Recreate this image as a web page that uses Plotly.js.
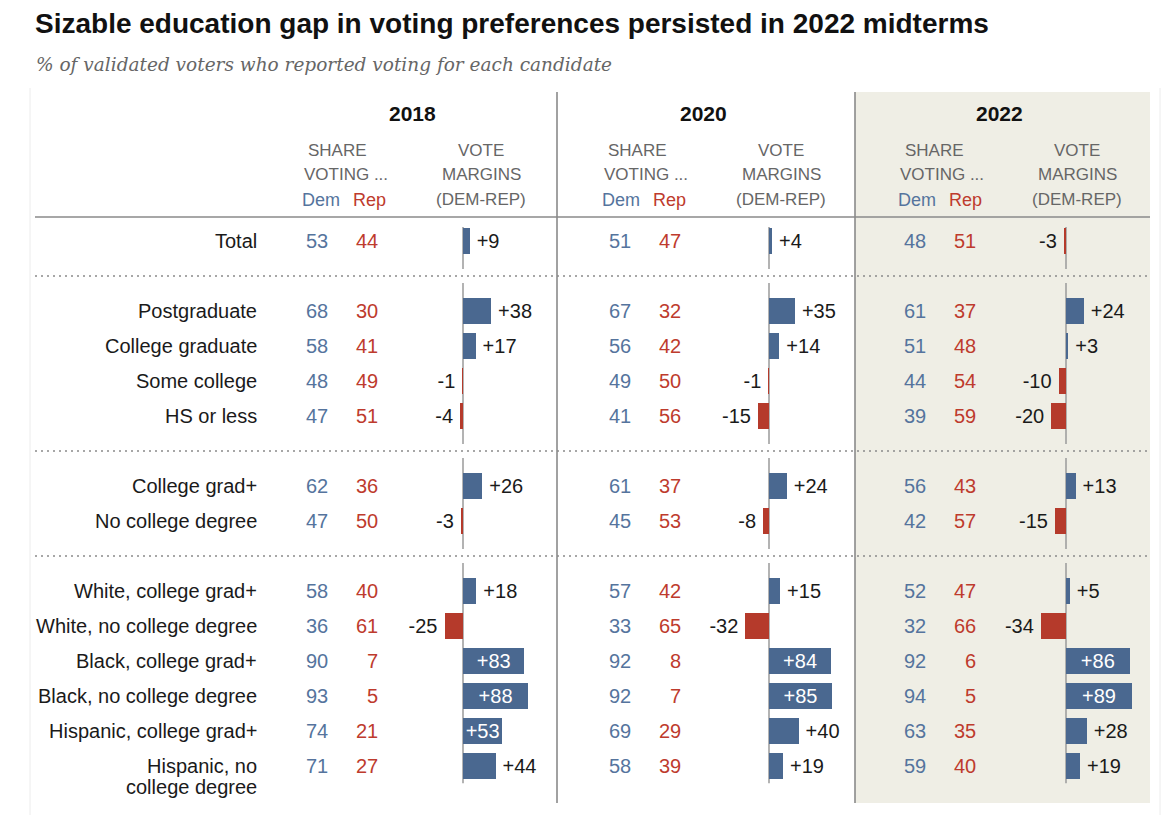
<!DOCTYPE html>
<html>
<head>
<meta charset="utf-8">
<script src="https://cdn.plot.ly/plotly-3.0.1.min.js"></script>
<style>html,body{margin:0;padding:0;background:#fff;}#chart{width:1170px;height:825px;}</style>
</head>
<body>
<div id="chart"></div>
<script>
// ---------- data ----------
const categories = ["Total","Postgraduate","College graduate","Some college","HS or less",
  "College grad+","No college degree",
  "White, college grad+","White, no college degree","Black, college grad+","Black, no college degree",
  "Hispanic, college grad+","Hispanic, no<br>college degree"];
const groupSizes = [1, 4, 2, 6];
const years = ["2018", "2020", "2022"];
const dem2018 = [53,68,58,48,47,62,47,58,36,90,93,74,71];
const rep2018 = [44,30,41,49,51,36,50,40,61,7,5,21,27];
const margin2018 = [9,38,17,-1,-4,26,-3,18,-25,83,88,53,44];
const dem2020 = [51,67,56,49,41,61,45,57,33,92,92,69,58];
const rep2020 = [47,32,42,50,56,37,53,42,65,8,7,29,39];
const margin2020 = [4,35,14,-1,-15,24,-8,15,-32,84,85,40,19];
const dem2022 = [48,61,51,44,39,56,42,52,32,92,94,63,59];
const rep2022 = [51,37,48,54,59,43,57,47,66,6,5,35,40];
const margin2022 = [-3,24,3,-10,-20,13,-15,5,-34,86,89,28,19];
const headerShare = ["SHARE", "VOTING ..."];
const headerMargin = ["VOTE", "MARGINS", "(DEM-REP)"];
const titleText = "Sizable education gap in voting preferences persisted in 2022 midterms";
const subtitleText = "% of validated voters who reported voting for each candidate";

// ---------- styling / geometry ----------
const W = 1170, H = 825;
const FONT = "Liberation Sans, Arial, sans-serif";
const BLUE = "#4A6890", RED = "#B53A2B";
const BLUE_TXT = "#55749D", RED_TXT = "#BE3B2D";
const INK = "#1a1a1a", GRAY = "#666666", LINE = "#8a8a8a";
const px = x => x / W;
const py = y => 1 - y / H;

// row positions (one empty row between groups)
const rowPos = []; const sepPos = []; const groupSpans = [];
(function(){ let idx = 0; groupSizes.forEach((n, gi) => {
  const first = idx;
  for (let k = 0; k < n; k++) rowPos.push(idx++);
  groupSpans.push([first, idx - 1]);
  if (gi < groupSizes.length - 1) { sepPos.push(idx); idx++; }
}); })();
const ROW0 = 241, ROWH = 35;
const lastRow = rowPos[rowPos.length - 1];
const yTop = ROW0 - ROWH / 2, yBot = ROW0 + lastRow * ROWH + ROWH / 2;

const panels = [
  {dem: dem2018, rep: rep2018, margin: margin2018, zero: 463, numOff: 0, hdrOff: 0, yearX: 412},
  {dem: dem2020, rep: rep2020, margin: margin2020, zero: 769, numOff: 303, hdrOff: 300, yearX: 703},
  {dem: dem2022, rep: rep2022, margin: margin2022, zero: 1066, numOff: 598, hdrOff: 596, yearX: 999}
];
const PXU = 0.74, XMIN = -40, XMAX = 100;
const INSIDE_MIN = 50;
const GAP = "\u2009";

const fmt = v => {
  const s = (v > 0 ? "+" : "") + v;
  if (v >= INSIDE_MIN) return s;
  return v >= 0 ? GAP + s : s + GAP;
};
const traces = [];
const layout = {
  width: W, height: H, margin: {l:0, r:0, t:0, b:0},
  paper_bgcolor: "#ffffff", plot_bgcolor: "rgba(0,0,0,0)",
  showlegend: false, bargap: 0,
  font: {family: FONT, color: INK, size: 20},
  title: {text: titleText, x: px(35), xanchor: "left", xref: "paper",
          y: py(23), yref: "paper", yanchor: "middle",
          font: {family: FONT, size: 28, weight: "bold", color: "#111"}},
  yaxis: {range: [lastRow + 0.5, -0.5], domain: [py(yBot), py(yTop)],
          showticklabels: false, showgrid: false, zeroline: false, showline: false, ticks: "", fixedrange: true},
  shapes: [], annotations: []
};

// background panel for 2022 and structural lines
layout.shapes.push({type:"rect", xref:"paper", yref:"paper", x0:px(855), x1:px(1150), y0:py(803), y1:py(92),
  fillcolor:"#EFEEE5", line:{width:0}, layer:"below"});
layout.shapes.push({type:"line", xref:"paper", yref:"paper", x0:px(30), x1:px(30), y0:py(815), y1:py(88),
  line:{color:"#ececec", width:1}, layer:"below"});
layout.shapes.push({type:"line", xref:"paper", yref:"paper", x0:px(1160), x1:px(1160), y0:py(815), y1:py(88),
  line:{color:"#ececec", width:1}, layer:"below"});
[557, 855].forEach(x => layout.shapes.push({type:"line", xref:"paper", yref:"paper",
  x0:px(x), x1:px(x), y0:py(803), y1:py(92), line:{color:LINE, width:1.6}, layer:"below"}));
layout.shapes.push({type:"line", xref:"paper", yref:"paper", x0:px(35), x1:px(1150), y0:py(217), y1:py(217),
  line:{color:LINE, width:1.6}, layer:"below"});
sepPos.forEach(s => layout.shapes.push({type:"line", xref:"paper", yref:"y", x0:px(35), x1:px(1150), y0:s, y1:s,
  line:{color:LINE, width:1.5, dash:"2px,4px"}, layer:"below"}));

// subtitle
layout.annotations.push({text: subtitleText, xref:"paper", yref:"paper", x:px(34), y:py(65),
  xanchor:"left", yanchor:"middle", showarrow:false,
  font:{family:"DejaVu Serif, serif", size:18.5, style:"italic", color:GRAY}});

// row labels
categories.forEach((c, i) => {
  c.split("<br>").forEach((line, j) => layout.annotations.push({text: line, xref:"paper", yref:"y",
    x:px(259), y:rowPos[i], yshift:-21*j, xanchor:"right", yanchor:"middle", showarrow:false,
    font:{family:FONT, size:20, color:INK}}));
});

panels.forEach((p, k) => {
  const ax = k === 0 ? "x" : "x" + (k + 1);
  const axKey = k === 0 ? "xaxis" : "xaxis" + (k + 1);
  const left = p.zero + XMIN * PXU, right = p.zero + XMAX * PXU;
  layout[axKey] = {domain:[px(left), px(right)], range:[XMIN, XMAX], anchor:"y",
    showticklabels:false, showgrid:false, zeroline:false, showline:false, ticks:"", fixedrange:true};

  // zero lines per group
  groupSpans.forEach((g, gi) => {
    const y0 = gi === 0 ? -0.4 : sepPos[gi - 1] + 0.2;
    const y1 = gi === groupSpans.length - 1 ? lastRow + 0.5 : sepPos[gi] - 0.2;
    layout.shapes.push({type:"line", xref:ax, yref:"y", x0:0, x1:0, y0:y0, y1:y1,
      line:{color:"#9a9a9a", width:1.5}, layer:"below"});
  });

  traces.push({type:"bar", orientation:"h", x:p.margin, y:rowPos, xaxis:ax, yaxis:"y",
    width:0.74, marker:{color:p.margin.map(v => v >= 0 ? BLUE : RED), line:{width:0}},
    text:p.margin.map(fmt), textposition:p.margin.map(v => v >= INSIDE_MIN ? "inside" : "outside"),
    insidetextanchor:"middle", constraintext:"none", cliponaxis:false,
    textfont:{family:FONT, size:20},
    insidetextfont:{family:FONT, size:20, color:"#ffffff"},
    outsidetextfont:{family:FONT, size:20, color:INK},
    hoverinfo:"skip"});

  // header
  layout.annotations.push({text: years[k], xref:"paper", yref:"paper", x:px(p.yearX), y:py(113),
    xanchor:"center", yanchor:"middle", showarrow:false,
    font:{family:FONT, size:21, weight:"bold", color:"#111"}});
  const shareCenters = [338, 346];
  headerShare.forEach((t, j) => layout.annotations.push({text:t, xref:"paper", yref:"paper",
    x:px(shareCenters[j] + p.hdrOff), y:py(150 + 24 * j), xanchor:"center", yanchor:"middle", showarrow:false,
    font:{family:FONT, size:17, color:GRAY}}));
  layout.annotations.push({text:"Dem", xref:"paper", yref:"paper", x:px(321 + p.hdrOff), y:py(200),
    xanchor:"center", yanchor:"middle", showarrow:false, font:{family:FONT, size:18, color:BLUE_TXT}});
  layout.annotations.push({text:"Rep", xref:"paper", yref:"paper", x:px(369 + p.hdrOff), y:py(200),
    xanchor:"center", yanchor:"middle", showarrow:false, font:{family:FONT, size:18, color:RED_TXT}});
  headerMargin.forEach((t, j) => layout.annotations.push({text:t, xref:"paper", yref:"paper",
    x:px(481 + p.hdrOff), y:py(150 + 24.5 * j), xanchor:"center", yanchor:"middle", showarrow:false,
    font:{family:FONT, size:17, color:GRAY}}));

  // share numbers
  p.dem.forEach((v, i) => layout.annotations.push({text:String(v), xref:"paper", yref:"y",
    x:px(330 + p.numOff), y:rowPos[i], xanchor:"right", yanchor:"middle", showarrow:false,
    font:{family:FONT, size:20, color:BLUE_TXT}}));
  p.rep.forEach((v, i) => layout.annotations.push({text:String(v), xref:"paper", yref:"y",
    x:px(380 + p.numOff), y:rowPos[i], xanchor:"right", yanchor:"middle", showarrow:false,
    font:{family:FONT, size:20, color:RED_TXT}}));
});

Plotly.newPlot("chart", traces, layout, {displayModeBar:false, staticPlot:true});
</script>
</body>
</html>
